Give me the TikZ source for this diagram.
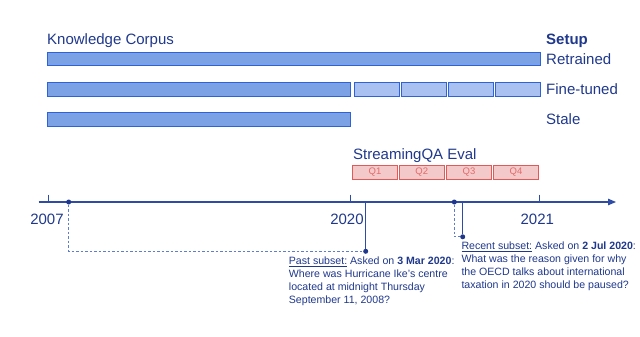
\documentclass[tikz,border=0pt]{standalone}
\usepackage{fontspec}
\setmainfont{Liberation Sans}
\usetikzlibrary{arrows.meta}
\definecolor{navy}{RGB}{31,56,140}
\definecolor{axiscol}{RGB}{46,76,166}
\definecolor{dashcol}{RGB}{95,125,205}
\definecolor{barline}{RGB}{46,98,214}
\definecolor{barfill}{RGB}{123,162,229}
\definecolor{lightfill}{RGB}{168,193,241}
\definecolor{qline}{RGB}{224,90,90}
\definecolor{qfill}{RGB}{243,201,201}
\definecolor{qtext}{RGB}{228,106,106}
\begin{document}
\begin{tikzpicture}[x=1pt,y=-1pt,
  bigtxt/.style={font=\fontsize{15}{18}\selectfont, text=navy, inner sep=0pt},
  smalltxt/.style={font=\fontsize{10.6}{13}\selectfont, text=navy, inner sep=0pt, align=left, anchor=north west},
  bar/.style={draw=barline, fill=barfill, line width=0.8pt},
  lbar/.style={draw=barline, fill=lightfill, line width=0.8pt},
  qbox/.style={draw=qline, fill=qfill, line width=0.8pt, text=qtext, font=\fontsize{9.5}{11}\selectfont, inner sep=0pt, minimum width=45.4pt, minimum height=14.3pt},
  axisline/.style={draw=axiscol, line width=1.1pt},
  tickline/.style={draw=axiscol, line width=0.9pt},
  dashline/.style={draw=dashcol, line width=0.9pt, dash pattern=on 2.5pt off 2pt},
  dot/.style={circle, fill=navy, inner sep=0pt, minimum size=5pt}
]
\useasboundingbox (0,0) rectangle (640,337);

% headings
\node[bigtxt, anchor=base west] (kc) at (47,44.3) {Knowledge Corpus};
\node[bigtxt, anchor=base west] (setup) at (546,44.3) {\textbf{Setup}};
\node[bigtxt, anchor=base west] (ret) at (546,64.5) {Retrained};
\node[bigtxt, anchor=base west] (ft) at (546,94.5) {Fine-tuned};
\node[bigtxt, anchor=base west] (st) at (546,124) {Stale};

% bars
\draw[bar] (47,52.3) rectangle (540.7,65.7);
\draw[bar] (47,82.8) rectangle (350.7,96.2);
\draw[lbar] (354.3,82.8) rectangle (399.7,96.2);
\draw[lbar] (401.3,82.8) rectangle (446.7,96.2);
\draw[lbar] (448.3,82.8) rectangle (493.7,96.2);
\draw[lbar] (495.3,82.8) rectangle (540.7,96.2);
\draw[bar] (47,112.5) rectangle (350.7,126.5);

% eval
\node[bigtxt, anchor=base west] (eval) at (353,159.5) {StreamingQA Eval};
\node[qbox] (q1) at (375,172.2) {Q1};
\node[qbox] (q2) at (421.8,172.2) {Q2};
\node[qbox] (q3) at (469,172.2) {Q3};
\node[qbox] (q4) at (516,172.2) {Q4};

% axis
\coordinate (axs) at (38.7,202);
\coordinate (axe) at (616,202);
\draw[axisline, -{Triangle[length=8pt,width=6.5pt]}] (axs) -- (axe);
\draw[tickline] (48.7,194.5) -- (48.7,202);
\draw[tickline] (350.7,194.5) -- (350.7,202);
\draw[tickline] (539.3,194.5) -- (539.3,202);
\node[bigtxt, anchor=base] (y2007) at (47,224.3) {2007};
\node[bigtxt, anchor=base] (y2020) at (347,224.3) {2020};
\node[bigtxt, anchor=base] (y2021) at (537.3,224.3) {2021};

% past subset
\node[dot] (p0) at (68.7,202) {};
\node[dot] (p1) at (365.7,251.3) {};
\coordinate (p1a) at (365.7,202);
\draw[dashline] (p0) |- (p1);
\draw[tickline] (p1a) -- (p1);
\node[smalltxt] (past) at (288.7,256.7) {\underline{Past subset:} Asked on \textbf{3 Mar 2020}:\\Where was Hurricane Ike's centre\\located at midnight Thursday\\September 11, 2008?};

% recent subset
\node[dot] (r0) at (454.3,202) {};
\node[dot] (r1) at (462.7,236.8) {};
\coordinate (r1a) at (462.7,202);
\draw[dashline] (r0) |- (r1);
\draw[tickline] (r1a) -- (r1);
\node[smalltxt] (recent) at (461.3,241.7) {\underline{Recent subset:} Asked on \textbf{2 Jul 2020}:\\What was the reason given for why\\the OECD talks about international\\taxation in 2020 should be paused?};
\end{tikzpicture}
\end{document}
